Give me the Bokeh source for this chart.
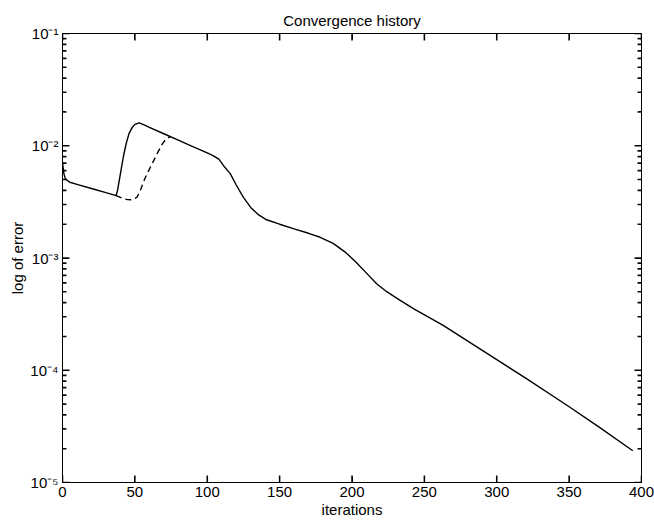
from bokeh.plotting import figure
from bokeh.models import FixedTicker, LinearAxis, LogAxis, CustomJSTickFormatter, Range1d, ColumnDataSource
from bokeh.embed import file_html
from bokeh.resources import INLINE

# ---- data ----
solid_iter = [0, 1, 2, 5, 10, 20, 30, 37, 38, 40, 42, 44, 46, 48, 50, 53, 56, 60, 70, 80, 90, 100,
              104, 108, 112, 116, 120, 125, 130, 135, 141, 150, 160, 170, 178, 187, 196, 203, 210,
              217, 224, 233, 243, 263, 280, 303, 320, 349, 370, 394]
solid_err = [7.08e-3, 5.62e-3, 5.07e-3, 4.73e-3, 4.53e-3, 4.16e-3, 3.82e-3, 3.60e-3, 3.98e-3,
             5.62e-3, 7.94e-3, 1.047e-2, 1.288e-2, 1.445e-2, 1.549e-2, 1.600e-2, 1.54e-2, 1.459e-2,
             1.279e-2, 1.122e-2, 9.84e-3, 8.63e-3, 8.18e-3, 7.59e-3, 6.46e-3, 5.62e-3, 4.47e-3,
             3.47e-3, 2.82e-3, 2.45e-3, 2.19e-3, 2.00e-3, 1.82e-3, 1.66e-3, 1.53e-3, 1.35e-3,
             1.11e-3, 9.12e-4, 7.33e-4, 5.89e-4, 5.01e-4, 4.22e-4, 3.51e-4, 2.51e-4, 1.82e-4,
             1.175e-4, 8.51e-5, 4.83e-5, 3.16e-5, 1.92e-5]

dashed_iter = [37, 40, 42, 45, 47, 49, 51.5, 54, 57, 60, 63, 66, 69, 71.5, 74.5]
dashed_err = [3.60e-3, 3.47e-3, 3.37e-3, 3.31e-3, 3.30e-3, 3.33e-3, 3.48e-3, 4.07e-3, 5.13e-3,
              6.17e-3, 7.38e-3, 8.81e-3, 1.040e-2, 1.148e-2, 1.208e-2]

x_min, x_max = 0, 400
y_min, y_max = 1e-5, 1e-1
x_ticks = [0, 50, 100, 150, 200, 250, 300, 350, 400]
y_ticks = [1e-5, 1e-4, 1e-3, 1e-2, 1e-1]
y_tick_labels = ["10\u207b\u2075", "10\u207b\u2074", "10\u207b\u00b3", "10\u207b\u00b2", "10\u207b\u00b9"]
y_minor = [m * d for d in [1e-5, 1e-4, 1e-3, 1e-2] for m in range(2, 10)]

FONT = "Liberation Sans"
W, H = 654, 521
BL, BR, BT, BB = 62, 13, 33, 39
FRAME_W, FRAME_H = W - BL - BR, H - BT - BB
MAJOR_PX, MINOR_PX = 7, 4

p = figure(width=W, height=H, y_axis_type="log", output_backend="svg", toolbar_location=None,
           x_range=Range1d(x_min, x_max), y_range=Range1d(y_min, y_max),
           min_border_left=BL, min_border_right=BR, min_border_top=BT, min_border_bottom=BB,
           title="Convergence history")
p.title.align = "center"
p.title.text_font = FONT
p.title.text_font_size = "15px"
p.title.text_font_style = "normal"
p.title.text_color = "black"
p.title.standoff = 10

p.grid.visible = False
p.outline_line_color = "black"
p.outline_line_width = 1
p.background_fill_color = "white"
p.border_fill_color = "white"

# inward tick marks, drawn through the data scales (pixel length converted to data units)
dx_per_px = (x_max - x_min) / FRAME_W
ylog_per_px = 4.0 / FRAME_H  # four decades span the frame height

tx0, ty0, tx1, ty1 = [], [], [], []
for vals, px in ((y_ticks, MAJOR_PX), (y_minor, MINOR_PX)):
    L = px * dx_per_px
    for v in vals:
        tx0 += [x_min, x_max]
        tx1 += [x_min + L, x_max - L]
        ty0 += [v, v]
        ty1 += [v, v]
f = 10 ** (MAJOR_PX * ylog_per_px)
for t in x_ticks:
    tx0 += [t, t]
    tx1 += [t, t]
    ty0 += [y_min, y_max]
    ty1 += [y_min * f, y_max / f]
ticks_src = ColumnDataSource(dict(x0=tx0, y0=ty0, x1=tx1, y1=ty1))
p.segment(x0="x0", y0="y0", x1="x1", y1="y1", source=ticks_src, line_color="#111111", line_width=1.6)

p.line(solid_iter, solid_err, line_color="black", line_width=1.4)
p.line(dashed_iter, dashed_err, line_color="black", line_width=1.4, line_dash="6 4")

yfmt = CustomJSTickFormatter(args=dict(tvals=y_ticks, tlabs=y_tick_labels), code="""
let best = 0, bd = 1e9;
for (let i = 0; i < tvals.length; i++) {
  const d = Math.abs(Math.log10(tvals[i]) - Math.log10(tick));
  if (d < bd) { bd = d; best = i; }
}
return tlabs[best];
""")

def style(ax, labels=True):
    ax.axis_line_color = "black"
    ax.major_tick_line_color = "black"
    ax.minor_tick_line_color = "black"
    ax.major_tick_in = 6
    ax.major_tick_out = 0
    ax.minor_tick_in = 3
    ax.minor_tick_out = 0
    ax.major_label_text_font = FONT
    ax.major_label_text_font_size = "15px"
    ax.major_label_text_color = "black"
    ax.axis_label_text_font = FONT
    ax.axis_label_text_font_size = "15px"
    ax.axis_label_text_font_style = "normal"
    ax.axis_label_text_color = "black"
    if not labels:
        ax.major_label_text_color = None
        ax.major_label_text_font_size = "0px"
        ax.major_label_standoff = 0

xax = p.xaxis[0]
xax.ticker = FixedTicker(ticks=x_ticks, minor_ticks=[])
xax.axis_label = "iterations"
style(xax)
xax.major_label_standoff = 4
xax.axis_label_standoff = 1

yax = p.yaxis[0]
yax.ticker = FixedTicker(ticks=y_ticks, minor_ticks=y_minor)
yax.formatter = yfmt
yax.axis_label = "log of error"
style(yax)
yax.major_label_standoff = 4
yax.axis_label_standoff = 1

top = LinearAxis(ticker=FixedTicker(ticks=x_ticks, minor_ticks=[]))
style(top, labels=False)
p.add_layout(top, "above")

right = LogAxis(ticker=FixedTicker(ticks=y_ticks, minor_ticks=y_minor))
style(right, labels=False)
p.add_layout(right, "right")

open("out.html", "w").write(file_html(p, INLINE))
